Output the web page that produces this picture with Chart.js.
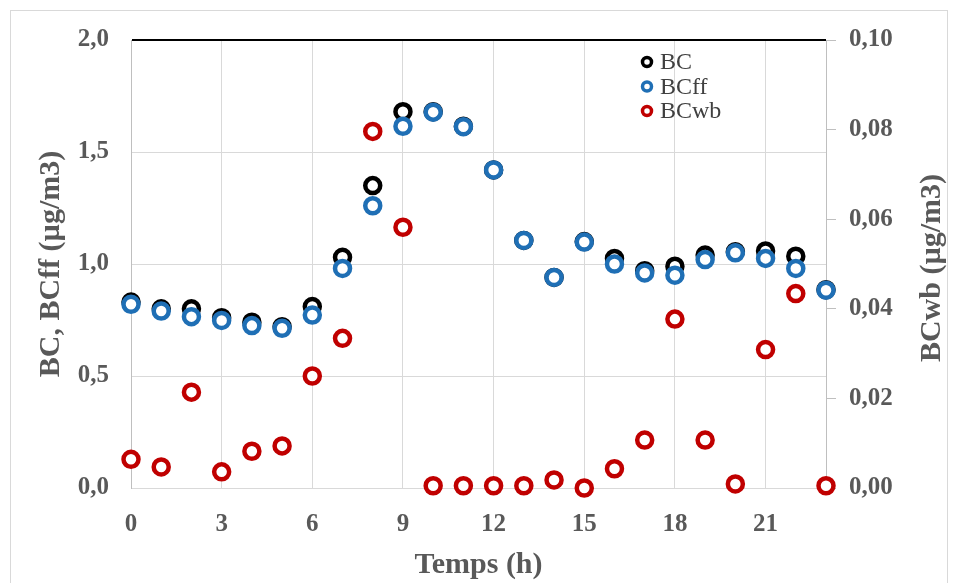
<!DOCTYPE html>
<html>
<head>
<meta charset="utf-8">
<script src="https://cdn.jsdelivr.net/npm/chart.js@4.4.0/dist/chart.umd.min.js"></script>
<style>
  html, body { margin: 0; padding: 0; background: #fff; }
  #wrap { position: relative; width: 958px; height: 583px; }
  canvas { position: absolute; left: 0; top: 0; }
</style>
</head>
<body>
<div id="wrap"><canvas id="c" width="958" height="583"></canvas></div>
<script>
// ---- data ----
const hours = [0,1,2,3,4,5,6,7,8,9,10,11,12,13,14,15,16,17,18,19,20,21,22,23];
const bcValues = [0.83,0.80,0.80,0.76,0.74,0.72,0.81,1.03,1.35,1.68,1.68,1.615,1.42,1.105,0.94,1.10,1.025,0.97,0.99,1.04,1.055,1.058,1.035,0.885];
const bcffValues = [0.82,0.79,0.765,0.748,0.725,0.713,0.772,0.98,1.26,1.615,1.678,1.613,1.42,1.105,0.94,1.098,1.00,0.96,0.95,1.02,1.05,1.025,0.98,0.883];
const bcwbValues = [0.0064,0.0047,0.0214,0.0036,0.0082,0.0094,0.025,0.0334,0.0796,0.0582,0.0005,0.0005,0.0005,0.0005,0.0018,0.0,0.0043,0.0107,0.0377,0.0107,0.0009,0.0309,0.0434,0.0005];
const seriesNames = ["BC", "BCff", "BCwb"];
const xTitle = "Temps (h)";
const yLeftTitle = "BC, BCff (µg/m3)";
const yRightTitle = "BCwb (µg/m3)";

const toPoints = (vals) => hours.map((h, i) => ({ x: h, y: vals[i] }));

const tickFont = { family: "'Liberation Serif', 'Times New Roman', serif", size: 25, weight: 'bold' };
const titleFont = { family: "'Liberation Serif', 'Times New Roman', serif", size: 30, weight: 'bold' };
const textGray = '#595959';
const gridGray = '#d9d9d9';

const frameAndExtras = {
  id: 'frameAndExtras',
  beforeDraw(chart) {
    const ctx = chart.ctx;
    ctx.save();
    ctx.strokeStyle = '#d9d9d9';
    ctx.lineWidth = 1;
    ctx.strokeRect(10.5, 10.5, 937, 600);
    ctx.restore();
  },
  afterDraw(chart) {
    const ctx = chart.ctx;
    // right axis title (reads bottom to top)
    ctx.save();
    ctx.translate(932, 268);
    ctx.rotate(-Math.PI / 2);
    ctx.font = "bold 30px 'Liberation Serif', 'Times New Roman', serif";
    ctx.fillStyle = textGray;
    ctx.textAlign = 'center';
    ctx.textBaseline = 'middle';
    ctx.fillText(yRightTitle, 0, 0);
    ctx.restore();
    // legend
    ctx.save();
    chart.data.datasets.forEach((ds, i) => {
      const y = 62 + i * 24.5;
      ctx.beginPath();
      ctx.arc(647, y, 4.5, 0, Math.PI * 2);
      ctx.fillStyle = '#fff';
      ctx.fill();
      ctx.lineWidth = 3.5;
      ctx.strokeStyle = ds.borderColor;
      ctx.stroke();
      ctx.font = "24px 'Liberation Serif', 'Times New Roman', serif";
      ctx.fillStyle = '#404040';
      ctx.textAlign = 'left';
      ctx.textBaseline = 'middle';
      ctx.fillText(ds.label, 660, y + 1);
    });
    ctx.restore();
  }
};

const ringStyle = (color, order) => ({
  borderColor: color,
  backgroundColor: '#ffffff',
  pointBackgroundColor: '#ffffff',
  pointBorderColor: color,
  pointRadius: 7.5,
  pointHoverRadius: 7.5,
  pointBorderWidth: 4.5,
  showLine: false,
  clip: false,
  order: order
});

new Chart(document.getElementById('c'), {
  type: 'scatter',
  data: {
    datasets: [
      Object.assign({ label: seriesNames[0], data: toPoints(bcValues), yAxisID: 'y' }, ringStyle('#000000', 3)),
      Object.assign({ label: seriesNames[1], data: toPoints(bcffValues), yAxisID: 'y' }, ringStyle('#1f6fb5', 2)),
      Object.assign({ label: seriesNames[2], data: toPoints(bcwbValues), yAxisID: 'y2' }, ringStyle('#c00000', 1))
    ]
  },
  options: {
    responsive: false,
    animation: false,
    devicePixelRatio: 1,
    layout: { padding: { left: 0, right: 0, top: 40, bottom: 0 } },
    plugins: { legend: { display: false }, tooltip: { enabled: false } },
    scales: {
      x: {
        type: 'linear',
        position: 'bottom',
        min: 0, max: 23,
        afterBuildTicks(scale) { scale.ticks = scale.ticks.filter(t => t.value % 3 === 0 && t.value <= 21); },
        ticks: { stepSize: 3, color: textGray, font: tickFont, padding: 22, maxRotation: 0 },
        grid: { color: gridGray, lineWidth: 1, drawTicks: false },
        border: { display: false },
        title: { display: true, text: xTitle, color: textGray, font: titleFont, padding: { top: 0, bottom: 0 } },
        afterFit(scale) { scale.height = 95; }
      },
      y: {
        type: 'linear',
        position: 'left',
        min: 0, max: 2,
        ticks: {
          stepSize: 0.5, color: textGray, font: tickFont, padding: 22,
          callback: (v) => Number(v).toFixed(1).replace('.', ',')
        },
        grid: {
          drawTicks: false,
          color: (c) => (c.tick && c.tick.value === 2 ? '#000000' : gridGray),
          lineWidth: (c) => (c.tick && c.tick.value === 2 ? 2 : 1)
        },
        border: { display: true, color: '#bfbfbf', width: 1 },
        title: { display: true, text: yLeftTitle, color: textGray, font: titleFont, padding: { top: 33, bottom: 0 } },
        afterFit(scale) { scale.width = 131; }
      },
      y2: {
        type: 'linear',
        position: 'right',
        min: 0, max: 0.1,
        ticks: {
          stepSize: 0.02, color: textGray, font: tickFont, padding: 13,
          callback: (v) => Number(v).toFixed(2).replace('.', ',')
        },
        grid: { drawOnChartArea: false, drawTicks: true, tickLength: 10, color: '#bfbfbf' },
        border: { display: true, color: '#bfbfbf', width: 1 },
        title: { display: false },
        afterFit(scale) { scale.width = 132; }
      }
    }
  },
  plugins: [frameAndExtras]
});
</script>
</body>
</html>
